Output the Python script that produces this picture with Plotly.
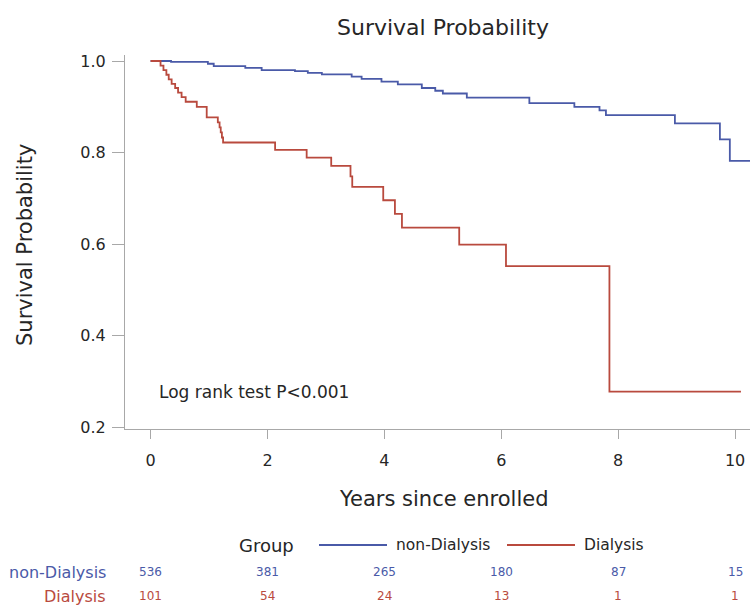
import plotly.graph_objects as go

# ---------------- data ----------------
nondial_time = [0, 0.35, 0.98, 1.08, 1.62, 1.90, 2.47, 2.69, 2.93, 3.44, 3.61, 3.95,
                4.23, 4.64, 4.87, 5.00, 5.41, 6.48, 7.25, 7.68, 7.79, 8.97, 9.74, 9.91, 10.4]
nondial_surv = [1.0, 0.998, 0.994, 0.989, 0.985, 0.980, 0.978, 0.974, 0.971, 0.966, 0.961, 0.955,
                0.949, 0.941, 0.935, 0.929, 0.920, 0.908, 0.900, 0.892, 0.882, 0.864, 0.829, 0.782, 0.782]

dial_time = [0, 0.17, 0.22, 0.27, 0.31, 0.36, 0.42, 0.47, 0.53, 0.60, 0.79, 0.96, 1.15, 1.18,
             1.20, 1.22, 1.24, 2.13, 2.67, 3.09, 3.42, 3.45, 3.98, 4.18, 4.30, 5.28, 6.08, 7.85, 10.1]
dial_surv = [1.0, 0.990, 0.980, 0.970, 0.960, 0.950, 0.941, 0.931, 0.921, 0.911, 0.900, 0.877, 0.866, 0.855,
             0.844, 0.833, 0.822, 0.806, 0.789, 0.771, 0.748, 0.725, 0.696, 0.666, 0.636, 0.599, 0.552, 0.278, 0.278]

risk_times = [0, 2, 4, 6, 8, 10]
risk_nondial = [536, 381, 265, 180, 87, 15]
risk_dial = [101, 54, 24, 13, 1, 1]

x_ticks = [0, 2, 4, 6, 8, 10]
y_ticks = [0.2, 0.4, 0.6, 0.8, 1.0]

BLUE = "#4a5aa8"
RED = "#b94a3e"
AXIS = "#a8a8a8"
TEXT = "#262626"
FONT = "DejaVu Sans"

# plot area in pixels
L, R, T, B = 125, 750, 55, 429
W, H = 750, 605


def px(xp):
    return (xp - L) / (R - L)


def py(yp):
    return (B - yp) / (B - T)


fig = go.Figure()
fig.add_trace(go.Scatter(x=nondial_time, y=nondial_surv, mode="lines", line_shape="hv",
                         line=dict(color=BLUE, width=1.8), name="non-Dialysis", showlegend=False))
fig.add_trace(go.Scatter(x=dial_time, y=dial_surv, mode="lines", line_shape="hv",
                         line=dict(color=RED, width=1.8), name="Dialysis", showlegend=False))

ann = []


def text(s, xp, yp, size, color=TEXT, xanchor="center", **kw):
    ann.append(dict(text=s, x=px(xp), y=py(yp), xref="paper", yref="paper", showarrow=False,
                    font=dict(size=size, color=color, family=FONT), xanchor=xanchor,
                    yanchor="middle", **kw))


text("Survival Probability", 443, 28, 22)
text("Years since enrolled", 443, 499, 21)
text("Survival Probability", 25, 245, 21, textangle=-90)
text("Log rank test P<0.001", 157, 392, 17, xanchor="left")
# legend
text("Group", 266, 545, 18)
text("non-Dialysis", 394, 545, 15.5, xanchor="left")
text("Dialysis", 582, 545, 15.5, xanchor="left")
# risk table row labels
text("non-Dialysis", 108, 572, 16, color=BLUE, xanchor="right")
text("Dialysis", 108, 596, 16, color=RED, xanchor="right")
for t, n1, n2 in zip(risk_times, risk_nondial, risk_dial):
    ann.append(dict(text=str(n1), x=t, y=py(572), xref="x", yref="paper", showarrow=False,
                    font=dict(size=12, color=BLUE, family=FONT), xanchor="center", yanchor="middle"))
    ann.append(dict(text=str(n2), x=t, y=py(596), xref="x", yref="paper", showarrow=False,
                    font=dict(size=12, color=RED, family=FONT), xanchor="center", yanchor="middle"))

shapes = [
    dict(type="line", xref="paper", yref="paper", x0=px(319), x1=px(387), y0=py(545), y1=py(545),
         line=dict(color=BLUE, width=1.8)),
    dict(type="line", xref="paper", yref="paper", x0=px(507), x1=px(575), y0=py(545), y1=py(545),
         line=dict(color=RED, width=1.8)),
]

x0 = -0.438
x1 = x0 + (R - L) / 58.45
y0 = 1 - (B - 61) / 458
y1 = 1 + (61 - T) / 458

fig.update_layout(
    width=W, height=H,
    margin=dict(l=L, r=W - R, t=T, b=H - B, pad=0),
    paper_bgcolor="white", plot_bgcolor="white",
    font=dict(family=FONT, color=TEXT),
    annotations=ann, shapes=shapes,
    xaxis=dict(range=[x0, x1], tickvals=x_ticks, ticktext=[str(v) for v in x_ticks],
               showgrid=False, zeroline=False, showline=True, linecolor=AXIS, linewidth=1.2,
               ticks="outside", ticklen=9, tickcolor=AXIS, tickwidth=1.2, ticklabelstandoff=8,
               tickfont=dict(size=16, color=TEXT, family=FONT)),
    yaxis=dict(range=[y0, y1], tickvals=y_ticks, ticktext=["%.1f" % v for v in y_ticks],
               showgrid=False, zeroline=False, showline=True, linecolor=AXIS, linewidth=1.2,
               ticks="outside", ticklen=12, tickcolor=AXIS, tickwidth=1.2, ticklabelstandoff=3,
               tickfont=dict(size=16, color=TEXT, family=FONT)),
)

fig.write_html("out.html", config={"displayModeBar": False},
               post_script="document.body.style.margin='0';document.body.style.overflow='hidden';")
